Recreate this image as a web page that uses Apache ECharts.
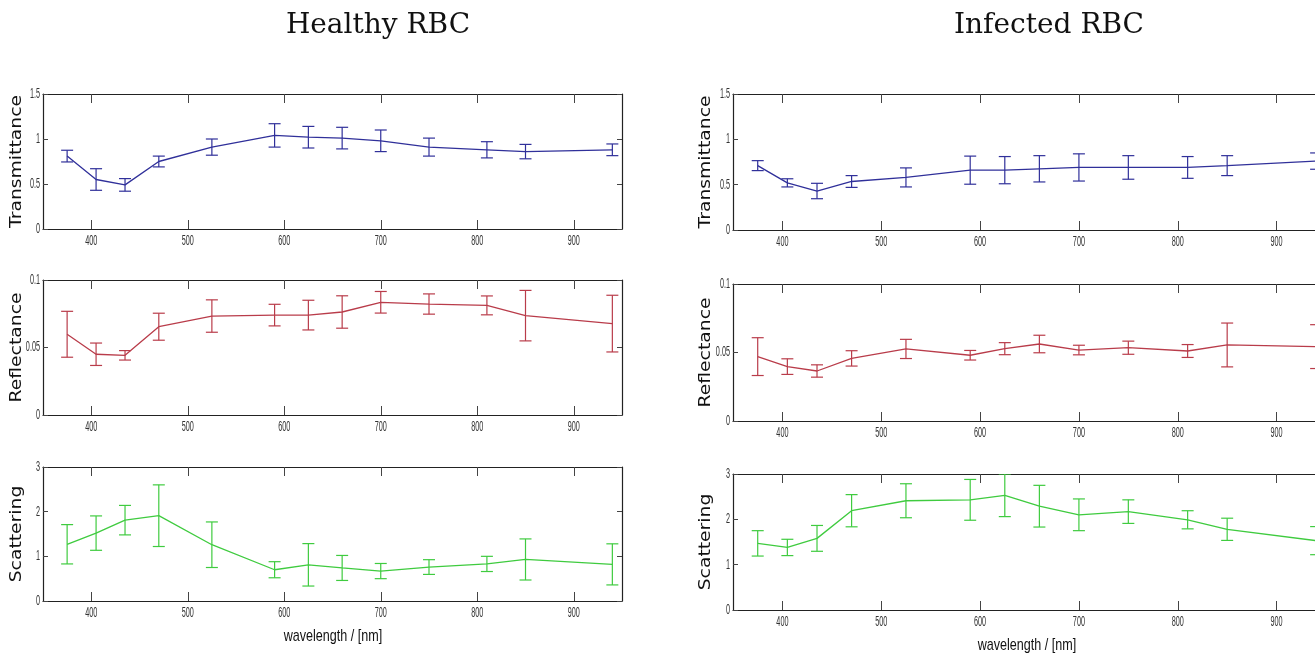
<!DOCTYPE html>
<html>
<head>
<meta charset="utf-8">
<script src="https://cdn.jsdelivr.net/npm/echarts@6/dist/echarts.min.js"></script>
<style>
  html, body { margin: 0; padding: 0; background: #fff; }
  #chart { width: 1315px; height: 657px; }
</style>
</head>
<body>
<div id="chart"></div>
<script>
// Wavelengths of the LED illumination (nm)
const wavelengths = [375, 405, 435, 470, 525, 590, 625, 660, 700, 750, 810, 850, 940];
const xTicks = [400, 500, 600, 700, 800, 900];
const transTicks = [0, 0.5, 1, 1.5];
const reflTicks = [0, 0.05, 0.1];
const scatTicks = [0, 1, 2, 3];

// Healthy red blood cells: mean and error half-width
const healthyTransMean = [0.81, 0.55, 0.49, 0.75, 0.91, 1.04, 1.02, 1.01, 0.98, 0.91, 0.88, 0.86, 0.88];
const healthyTransErr  = [0.065, 0.12, 0.07, 0.06, 0.09, 0.13, 0.12, 0.12, 0.12, 0.10, 0.09, 0.08, 0.065];
const healthyReflMean  = [0.0598, 0.045, 0.0442, 0.0654, 0.0733, 0.074, 0.074, 0.0763, 0.0835, 0.0822, 0.0812, 0.0736, 0.0677];
const healthyReflErr   = [0.017, 0.0083, 0.0035, 0.010, 0.012, 0.008, 0.011, 0.012, 0.008, 0.0075, 0.007, 0.0187, 0.021];
const healthyScatMean  = [1.27, 1.52, 1.81, 1.91, 1.26, 0.70, 0.81, 0.74, 0.67, 0.76, 0.83, 0.93, 0.82];
const healthyScatErr   = [0.44, 0.385, 0.33, 0.69, 0.51, 0.18, 0.475, 0.28, 0.17, 0.165, 0.17, 0.46, 0.46];

// Infected red blood cells: mean and error half-width
const infectedTransMean = [0.71, 0.52, 0.43, 0.535, 0.58, 0.66, 0.66, 0.675, 0.69, 0.69, 0.69, 0.71, 0.76];
const infectedTransErr  = [0.055, 0.045, 0.085, 0.065, 0.105, 0.155, 0.15, 0.145, 0.15, 0.13, 0.12, 0.11, 0.09];
const infectedReflMean  = [0.047, 0.0397, 0.0365, 0.0457, 0.0526, 0.048, 0.0528, 0.0562, 0.0518, 0.0535, 0.0511, 0.0555, 0.0543];
const infectedReflErr   = [0.0138, 0.0057, 0.0045, 0.0056, 0.007, 0.0035, 0.0044, 0.0064, 0.0035, 0.0048, 0.0047, 0.016, 0.016];
const infectedScatMean  = [1.47, 1.38, 1.58, 2.19, 2.41, 2.43, 2.53, 2.29, 2.10, 2.17, 1.99, 1.78, 1.53];
const infectedScatErr   = [0.28, 0.18, 0.285, 0.355, 0.375, 0.45, 0.47, 0.46, 0.35, 0.26, 0.20, 0.245, 0.31];

const columnTitles = ['Healthy RBC', 'Infected RBC'];
const quantityNames = ['Transmittance', 'Reflectance', 'Scattering'];
const quantityTicks = [transTicks, reflTicks, scatTicks];
const quantityColors = ['#30309a', '#b93c4a', '#3fcb3f'];
const xName = 'wavelength / [nm]';

const panelData = [
  [[healthyTransMean, healthyTransErr], [healthyReflMean, healthyReflErr], [healthyScatMean, healthyScatErr]],
  [[infectedTransMean, infectedTransErr], [infectedReflMean, infectedReflErr], [infectedScatMean, infectedScatErr]]
];

// Plot-box placement of each panel (column, row)
const boxes = [
  [{ left: 43, width: 579, top: 94, height: 135 },
   { left: 43, width: 579, top: 280, height: 135 },
   { left: 43, width: 579, top: 467, height: 134 }],
  [{ left: 733, width: 593, top: 94, height: 136 },
   { left: 733, width: 593, top: 284, height: 137 },
   { left: 733, width: 593, top: 474, height: 136 }]
];
const titleCenters = [373, 1044];
const xNameCenters = [[333, 636], [1027, 645]];
const yNameCenterX = [17, 706];

const labelFont = '14px "Liberation Sans", Arial, sans-serif';
const axisColor = '#222';
const tickColor = '#444';

function errorBarItem(params, api) {
  const x = api.value(0);
  const lo = api.coord([x, api.value(1)]);
  const hi = api.coord([x, api.value(2)]);
  const half = 6;
  const style = { stroke: api.visual('color'), lineWidth: 1.2 };
  return {
    type: 'group',
    children: [
      { type: 'line', shape: { x1: lo[0], y1: lo[1], x2: hi[0], y2: hi[1] }, style },
      { type: 'line', shape: { x1: lo[0] - half, y1: lo[1], x2: lo[0] + half, y2: lo[1] }, style },
      { type: 'line', shape: { x1: hi[0] - half, y1: hi[1], x2: hi[0] + half, y2: hi[1] }, style }
    ]
  };
}

const grid = [], xAxis = [], yAxis = [], series = [], title = [];

columnTitles.forEach((t, c) => {
  title.push({
    text: t, left: titleCenters[c], top: 7, textAlign: 'center',
    textStyle: { fontFamily: '"DejaVu Serif", "Liberation Serif", serif', fontWeight: 'normal', fontSize: 28, color: '#111' }
  });
});

function baseAxis(g, position, extra) {
  return Object.assign({
    type: 'value', gridIndex: g, position,
    axisLine: { show: true, onZero: false, lineStyle: { color: axisColor, width: 1.2 } },
    axisLabel: { show: false },
    splitLine: { show: false }
  }, extra);
}

for (let c = 0; c < 2; c++) {
  for (let r = 0; r < 3; r++) {
    const g = grid.length;
    grid.push(Object.assign({ containLabel: false, outerBoundsMode: 'none' }, boxes[c][r]));
    const ticks = quantityTicks[r];
    const ymin = ticks[0], ymax = ticks[ticks.length - 1], yint = ticks[1] - ticks[0];
    const xTickStyle = { show: true, inside: true, length: 9, customValues: xTicks, lineStyle: { color: tickColor } };
    const yTickStyle = { show: true, inside: true, length: 5, lineStyle: { color: tickColor } };

    xAxis.push(baseAxis(g, 'bottom', { min: 350, max: 950, axisTick: xTickStyle }));
    xAxis.push(baseAxis(g, 'top', { min: 350, max: 950, axisTick: xTickStyle }));
    yAxis.push(baseAxis(g, 'left', { min: ymin, max: ymax, interval: yint, axisTick: yTickStyle }));
    yAxis.push(baseAxis(g, 'right', { min: ymin, max: ymax, interval: yint, axisTick: yTickStyle }));

    const [mean, err] = panelData[c][r];
    const color = quantityColors[r];
    series.push({
      type: 'line', xAxisIndex: 2 * g, yAxisIndex: 2 * g,
      data: wavelengths.map((w, i) => [w, mean[i]]),
      showSymbol: false, symbol: 'none', silent: true, animation: false,
      lineStyle: { color, width: 1.3 }, itemStyle: { color }
    });
    series.push({
      type: 'custom', xAxisIndex: 2 * g, yAxisIndex: 2 * g, clip: true,
      renderItem: errorBarItem, silent: true, animation: false,
      itemStyle: { color },
      encode: { x: 0, y: [1, 2] },
      data: wavelengths.map((w, i) => [w, mean[i] - err[i], mean[i] + err[i]])
    });
  }
}

const chart = echarts.init(document.getElementById('chart'), null, { renderer: 'canvas' });
chart.setOption({
  backgroundColor: '#fff',
  animation: false,
  title, grid, xAxis, yAxis, series
});

// Tick labels and axis titles, set in a tall condensed face; positions come
// from the axes through convertToPixel.
const graphic = [];
for (let c = 0; c < 2; c++) {
  for (let r = 0; r < 3; r++) {
    const g = c * 3 + r;
    const finder = { xAxisIndex: 2 * g, yAxisIndex: 2 * g };
    const ticks = quantityTicks[r];
    const ymin = ticks[0];
    xTicks.forEach(v => {
      const p = chart.convertToPixel(finder, [v, ymin]);
      graphic.push({
        type: 'text', x: p[0], y: p[1] + 5, scaleX: 0.52, silent: true,
        style: { text: String(v), align: 'center', verticalAlign: 'top', font: labelFont, fill: '#333' }
      });
    });
    ticks.forEach(v => {
      const p = chart.convertToPixel(finder, [350, v]);
      graphic.push({
        type: 'text', x: p[0] - 3, y: p[1], scaleX: 0.52, silent: true,
        style: { text: String(v), align: 'right', verticalAlign: 'middle', font: labelFont, fill: '#333' }
      });
    });
    // quantity name along the left edge
    const top = chart.convertToPixel(finder, [350, ticks[ticks.length - 1]]);
    const bottom = chart.convertToPixel(finder, [350, ymin]);
    graphic.push({
      type: 'text', x: yNameCenterX[c], y: (top[1] + bottom[1]) / 2,
      rotation: Math.PI / 2, scaleX: 1.25, silent: true,
      style: { text: quantityNames[r], align: 'center', verticalAlign: 'middle',
               font: '15px "DejaVu Sans", sans-serif', fill: '#111' }
    });
  }
  // wavelength axis title under the bottom panel
  graphic.push({
    type: 'text', x: xNameCenters[c][0], y: xNameCenters[c][1], scaleX: 0.74, silent: true,
    style: { text: xName, align: 'center', verticalAlign: 'middle',
             font: '17px "Liberation Sans", Arial, sans-serif', fill: '#111' }
  });
}
chart.setOption({ graphic });
</script>
</body>
</html>
